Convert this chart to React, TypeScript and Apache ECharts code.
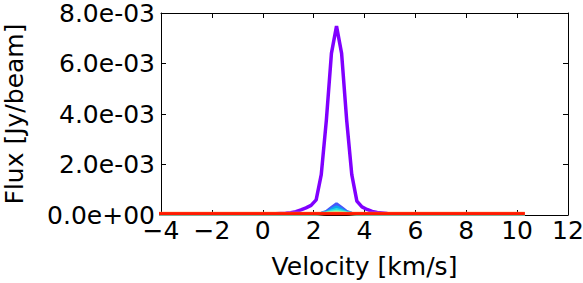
import React, { useEffect, useRef } from "react";
import * as echarts from "echarts";

// Velocity channels [km/s]
const velocity = [
  -4.1, -3.9, -3.7, -3.5, -3.3, -3.1, -2.9, -2.7, -2.5, -2.3,
  -2.1, -1.9, -1.7, -1.5, -1.3, -1.1, -0.9, -0.7, -0.5, -0.3,
  -0.1, 0.1, 0.3, 0.5, 0.7, 0.9, 1.1, 1.3, 1.5, 1.7,
  1.9, 2.1, 2.3, 2.5, 2.7, 2.9, 3.1, 3.3, 3.5, 3.7,
  3.9, 4.1, 4.3, 4.5, 4.7, 4.9, 5.1, 5.3, 5.5, 5.7,
  5.9, 6.1, 6.3, 6.5, 6.7, 6.9, 7.1, 7.3, 7.5, 7.7,
  7.9, 8.1, 8.3, 8.5, 8.7, 8.9, 9.1, 9.3, 9.5, 9.7,
  9.9, 10.1, 10.3,
];

// Flux values in units of 1e-3 Jy/beam
const flux1 = [
  0.03, 0.03, 0.03, 0.03, 0.03, 0.03, 0.03, 0.03, 0.03, 0.03,
  0.03, 0.03, 0.03, 0.03, 0.03, 0.03, 0.03, 0.03, 0.03, 0.03,
  0.03, 0.04, 0.05, 0.05, 0.06, 0.07, 0.09, 0.13, 0.2, 0.28,
  0.38, 0.6, 1.6, 3.75, 6.4, 7.48, 6.4, 3.75, 1.6, 0.55,
  0.32, 0.22, 0.14, 0.1, 0.08, 0.06, 0.05, 0.05, 0.04, 0.03,
  0.03, 0.03, 0.03, 0.03, 0.03, 0.03, 0.03, 0.03, 0.03, 0.03,
  0.03, 0.03, 0.03, 0.03, 0.03, 0.03, 0.03, 0.03, 0.03, 0.03,
  0.03, 0.03, 0.03,
];
const flux2 = [
  0.03, 0.03, 0.03, 0.03, 0.03, 0.03, 0.03, 0.03, 0.03, 0.03,
  0.03, 0.03, 0.03, 0.03, 0.03, 0.03, 0.03, 0.03, 0.03, 0.03,
  0.03, 0.03, 0.03, 0.03, 0.03, 0.03, 0.03, 0.03, 0.03, 0.03,
  0.03, 0.04, 0.07, 0.14, 0.3, 0.45, 0.3, 0.14, 0.07, 0.04,
  0.03, 0.03, 0.03, 0.03, 0.03, 0.03, 0.03, 0.03, 0.03, 0.03,
  0.03, 0.03, 0.03, 0.03, 0.03, 0.03, 0.03, 0.03, 0.03, 0.03,
  0.03, 0.03, 0.03, 0.03, 0.03, 0.03, 0.03, 0.03, 0.03, 0.03,
  0.03, 0.03, 0.03,
];
const flux3 = [
  0.03, 0.03, 0.03, 0.03, 0.03, 0.03, 0.03, 0.03, 0.03, 0.03,
  0.03, 0.03, 0.03, 0.03, 0.03, 0.03, 0.03, 0.03, 0.03, 0.03,
  0.03, 0.03, 0.03, 0.03, 0.03, 0.03, 0.03, 0.03, 0.03, 0.03,
  0.03, 0.04, 0.06, 0.11, 0.22, 0.32, 0.22, 0.11, 0.06, 0.04,
  0.03, 0.03, 0.03, 0.03, 0.03, 0.03, 0.03, 0.03, 0.03, 0.03,
  0.03, 0.03, 0.03, 0.03, 0.03, 0.03, 0.03, 0.03, 0.03, 0.03,
  0.03, 0.03, 0.03, 0.03, 0.03, 0.03, 0.03, 0.03, 0.03, 0.03,
  0.03, 0.03, 0.03,
];
const flux4 = [
  0.04, 0.04, 0.04, 0.04, 0.04, 0.04, 0.04, 0.04, 0.04, 0.04,
  0.04, 0.04, 0.04, 0.04, 0.04, 0.04, 0.04, 0.04, 0.04, 0.04,
  0.04, 0.04, 0.04, 0.04, 0.04, 0.04, 0.04, 0.04, 0.04, 0.04,
  0.04, 0.04, 0.06, 0.09, 0.16, 0.22, 0.16, 0.09, 0.06, 0.04,
  0.04, 0.04, 0.04, 0.04, 0.04, 0.04, 0.04, 0.04, 0.04, 0.04,
  0.04, 0.04, 0.04, 0.04, 0.04, 0.04, 0.04, 0.04, 0.04, 0.04,
  0.04, 0.04, 0.04, 0.04, 0.04, 0.04, 0.04, 0.04, 0.04, 0.04,
  0.04, 0.04, 0.04,
];
const flux5 = [
  0.04, 0.04, 0.04, 0.04, 0.04, 0.04, 0.04, 0.04, 0.04, 0.04,
  0.04, 0.04, 0.04, 0.04, 0.04, 0.04, 0.04, 0.04, 0.04, 0.04,
  0.04, 0.04, 0.04, 0.04, 0.04, 0.04, 0.04, 0.04, 0.04, 0.04,
  0.04, 0.04, 0.05, 0.07, 0.11, 0.15, 0.11, 0.07, 0.05, 0.04,
  0.04, 0.04, 0.04, 0.04, 0.04, 0.04, 0.04, 0.04, 0.04, 0.04,
  0.04, 0.04, 0.04, 0.04, 0.04, 0.04, 0.04, 0.04, 0.04, 0.04,
  0.04, 0.04, 0.04, 0.04, 0.04, 0.04, 0.04, 0.04, 0.04, 0.04,
  0.04, 0.04, 0.04,
];
const flux6 = [
  0.05, 0.05, 0.05, 0.05, 0.05, 0.05, 0.05, 0.05, 0.05, 0.05,
  0.05, 0.05, 0.05, 0.05, 0.05, 0.05, 0.05, 0.05, 0.05, 0.05,
  0.05, 0.05, 0.05, 0.05, 0.05, 0.05, 0.05, 0.05, 0.05, 0.05,
  0.05, 0.05, 0.05, 0.06, 0.08, 0.1, 0.08, 0.06, 0.05, 0.05,
  0.05, 0.05, 0.05, 0.05, 0.05, 0.05, 0.05, 0.05, 0.05, 0.05,
  0.05, 0.05, 0.05, 0.05, 0.05, 0.05, 0.05, 0.05, 0.05, 0.05,
  0.05, 0.05, 0.05, 0.05, 0.05, 0.05, 0.05, 0.05, 0.05, 0.05,
  0.05, 0.05, 0.05,
];
const flux7 = [
  0.06, 0.06, 0.06, 0.06, 0.06, 0.06, 0.06, 0.06, 0.06, 0.06,
  0.06, 0.06, 0.06, 0.06, 0.06, 0.06, 0.06, 0.06, 0.06, 0.06,
  0.06, 0.06, 0.06, 0.06, 0.06, 0.06, 0.06, 0.06, 0.06, 0.06,
  0.06, 0.06, 0.06, 0.06, 0.07, 0.08, 0.07, 0.06, 0.06, 0.06,
  0.06, 0.06, 0.06, 0.06, 0.06, 0.06, 0.06, 0.06, 0.06, 0.06,
  0.06, 0.06, 0.06, 0.06, 0.06, 0.06, 0.06, 0.06, 0.06, 0.06,
  0.06, 0.06, 0.06, 0.06, 0.06, 0.06, 0.06, 0.06, 0.06, 0.06,
  0.06, 0.06, 0.06,
];
const flux8 = [
  0.07, 0.07, 0.07, 0.07, 0.07, 0.07, 0.07, 0.07, 0.07, 0.07,
  0.07, 0.07, 0.07, 0.07, 0.07, 0.07, 0.07, 0.07, 0.07, 0.07,
  0.07, 0.07, 0.07, 0.07, 0.07, 0.07, 0.07, 0.07, 0.07, 0.07,
  0.07, 0.07, 0.07, 0.07, 0.07, 0.07, 0.07, 0.07, 0.07, 0.07,
  0.07, 0.07, 0.07, 0.07, 0.07, 0.07, 0.07, 0.07, 0.07, 0.07,
  0.07, 0.07, 0.07, 0.07, 0.07, 0.07, 0.07, 0.07, 0.07, 0.07,
  0.07, 0.07, 0.07, 0.07, 0.07, 0.07, 0.07, 0.07, 0.07, 0.07,
  0.07, 0.07, 0.07,
];
const flux9 = [
  0.06, 0.06, 0.06, 0.06, 0.06, 0.06, 0.06, 0.06, 0.06, 0.06,
  0.06, 0.06, 0.06, 0.06, 0.06, 0.06, 0.06, 0.06, 0.06, 0.06,
  0.06, 0.06, 0.06, 0.06, 0.06, 0.06, 0.06, 0.06, 0.06, 0.06,
  0.06, 0.06, 0.06, 0.06, 0.06, 0.06, 0.06, 0.06, 0.06, 0.06,
  0.06, 0.06, 0.06, 0.06, 0.06, 0.06, 0.06, 0.06, 0.06, 0.06,
  0.06, 0.06, 0.06, 0.06, 0.06, 0.06, 0.06, 0.06, 0.06, 0.06,
  0.06, 0.06, 0.06, 0.06, 0.06, 0.06, 0.06, 0.06, 0.06, 0.06,
  0.06, 0.06, 0.06,
];
const flux10 = [
  0.05, 0.05, 0.05, 0.05, 0.05, 0.05, 0.05, 0.05, 0.05, 0.05,
  0.05, 0.05, 0.05, 0.05, 0.05, 0.05, 0.05, 0.05, 0.05, 0.05,
  0.05, 0.05, 0.05, 0.05, 0.05, 0.05, 0.05, 0.05, 0.05, 0.05,
  0.05, 0.05, 0.05, 0.05, 0.05, 0.05, 0.05, 0.05, 0.05, 0.05,
  0.05, 0.05, 0.05, 0.05, 0.05, 0.05, 0.05, 0.05, 0.05, 0.05,
  0.05, 0.05, 0.05, 0.05, 0.05, 0.05, 0.05, 0.05, 0.05, 0.05,
  0.05, 0.05, 0.05, 0.05, 0.05, 0.05, 0.05, 0.05, 0.05, 0.05,
  0.05, 0.05, 0.05,
];

const fluxSeries = [flux1, flux2, flux3, flux4, flux5, flux6, flux7, flux8, flux9, flux10];
const lineColors = [
  "#8000ff", "#4757fb", "#0ea4f0", "#2bdddd", "#63fbc3",
  "#9cfba4", "#d4dd80", "#ffa457", "#ff572c", "#ff1a00",
];
const UNIT = 1e-3; // values above are in mJy/beam

const xTicks = { min: -4, max: 12, interval: 2 };
const yTicks = { min: 0, max: 0.008, interval: 0.002 };

const FONT = "DejaVu Sans";

function fmtY(v: number): string {
  if (Math.abs(v) < 1e-12) return "0.0e+00";
  const [m, e] = v.toExponential(1).split("e");
  const sign = e[0];
  const n = e.slice(1).padStart(2, "0");
  return `${m}e${sign}${n}`;
}
function fmtX(v: number): string {
  return String(Math.round(v)).replace("-", "\u2212");
}

export default function App() {
  const ref = useRef<HTMLDivElement>(null);
  useEffect(() => {
    if (!ref.current) return;
    const chart = echarts.init(ref.current, undefined, { renderer: "svg" });
    const axisLine = { show: true, onZero: false, lineStyle: { color: "#000", width: 1 } };
    const axisTick = { show: true, inside: true, length: 5, lineStyle: { color: "#000", width: 1 } };
    chart.setOption({
      animation: false,
      backgroundColor: "#fff",
      grid: {
        left: 161,
        right: 15,
        top: 13,
        bottom: 68,
        containLabel: false,
        outerBoundsMode: "none",
      },
      xAxis: [
        {
          type: "value",
          position: "bottom",
          ...xTicks,
          axisLine,
          axisTick,
          splitLine: { show: false },
          axisLabel: { fontSize: 25, color: "#000", fontFamily: FONT, margin: 3, formatter: fmtX },
          name: "Velocity [km/s]",
          nameLocation: "middle",
          nameGap: 39,
          nameTextStyle: { fontSize: 25, color: "#000", fontFamily: FONT },
        },
        {
          type: "value",
          position: "top",
          ...xTicks,
          axisLine,
          axisTick,
          splitLine: { show: false },
          axisLabel: { show: false },
        },
      ],
      yAxis: [
        {
          type: "value",
          position: "left",
          ...yTicks,
          axisLine,
          axisTick,
          splitLine: { show: false },
          axisLabel: { fontSize: 25, color: "#000", fontFamily: FONT, margin: 6, formatter: fmtY },
          name: "Flux [Jy/beam]",
          nameLocation: "middle",
          nameGap: 134,
          nameTextStyle: { fontSize: 25, color: "#000", fontFamily: FONT },
        },
        {
          type: "value",
          position: "right",
          ...yTicks,
          axisLine,
          axisTick,
          splitLine: { show: false },
          axisLabel: { show: false },
        },
      ],
      series: fluxSeries.map((f, k) => ({
        type: "line",
        xAxisIndex: 0,
        yAxisIndex: 0,
        data: velocity.map((v, i) => [v, f[i] * UNIT]),
        showSymbol: false,
        symbol: "none",
        clip: true,
        lineStyle: { color: lineColors[k], width: k === 0 ? 3.5 : 3 },
        itemStyle: { color: lineColors[k] },
      })),
    });
    return () => chart.dispose();
  }, []);
  return (
    <div
      ref={ref}
      style={{ position: "fixed", left: 0, top: 0, width: 583, height: 283 }}
    />
  );
}
